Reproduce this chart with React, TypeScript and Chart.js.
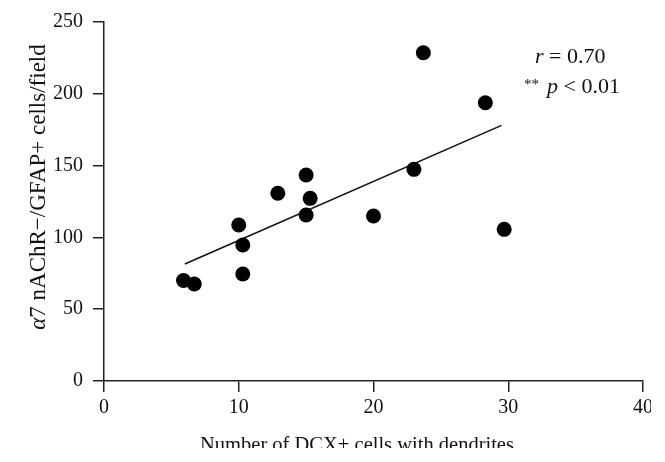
import React, { useEffect, useRef } from "react";
import { Chart, registerables } from "chart.js";

Chart.register(...registerables);

const dcxCells = [5.9, 6.7, 10.0, 10.3, 10.3, 12.9, 15.0, 15.0, 15.3, 20.0, 23.0, 23.7, 28.3, 29.7];
const a7Cells = [70, 67.5, 108.6, 94.7, 74.5, 130.7, 143.5, 115.6, 127.2, 114.9, 147.4, 228.6, 193.8, 105.6];
const fitX = [6.0, 29.5];
const fitY = [81.5, 178];
const xTicks = [0, 10, 20, 30, 40];
const yTicks = [0, 50, 100, 150, 200, 250];
const xTitle = "Number of DCX+ cells with dendrites";
const yTitleItalic = "α";
const yTitleRest = "7 nAChR−/GFAP+ cells/field";
const statR = ["r", " = 0.70"];
const statP = ["**", "p", " < 0.01"];

const SERIF = '"Liberation Serif", "DejaVu Serif", serif';

export default function App() {
  const ref = useRef<HTMLCanvasElement | null>(null);

  useEffect(() => {
    const canvas = ref.current;
    if (!canvas) return;

    const textPlugin = {
      id: "texts",
      afterDraw(chart: any) {
        const ctx = chart.ctx;
        ctx.save();
        ctx.fillStyle = "#111";
        ctx.textBaseline = "alphabetic";
        ctx.textAlign = "left";
        // x title
        ctx.font = `20.5px ${SERIF}`;
        const xw = ctx.measureText(xTitle).width;
        ctx.fillText(xTitle, 357 - xw / 2, 451);
        // y title
        ctx.save();
        ctx.translate(45, 187);
        ctx.rotate(-Math.PI / 2);
        ctx.font = `italic 23px ${SERIF}`;
        const w1 = ctx.measureText(yTitleItalic).width;
        ctx.font = `23px ${SERIF}`;
        const w2 = ctx.measureText(yTitleRest).width;
        const start = -(w1 + w2) / 2;
        ctx.font = `italic 23px ${SERIF}`;
        ctx.fillText(yTitleItalic, start, 0);
        ctx.font = `23px ${SERIF}`;
        ctx.fillText(yTitleRest, start + w1, 0);
        ctx.restore();
        // stats
        let x = 535;
        ctx.font = `italic 22px ${SERIF}`;
        ctx.fillText(statR[0], x, 63);
        x += ctx.measureText(statR[0]).width;
        ctx.font = `22px ${SERIF}`;
        ctx.fillText(statR[1], x, 63);
        x = 524;
        ctx.font = `15px ${SERIF}`;
        ctx.fillText(statP[0], x, 89);
        x = 547;
        ctx.font = `italic 22px ${SERIF}`;
        ctx.fillText(statP[1], x, 93);
        x += ctx.measureText(statP[1]).width;
        ctx.font = `22px ${SERIF}`;
        ctx.fillText(statP[2], x, 93);
        ctx.restore();
      },
    };

    const chart = new Chart(canvas, {
      type: "scatter",
      data: {
        datasets: [
          {
            type: "scatter",
            data: dcxCells.map((x, i) => ({ x, y: a7Cells[i] })),
            backgroundColor: "#000",
            borderColor: "#000",
            pointRadius: 7.5,
            pointHoverRadius: 7.5,
            borderWidth: 0,
          },
          {
            type: "line",
            data: fitX.map((x, i) => ({ x, y: fitY[i] })),
            borderColor: "#111",
            borderWidth: 1.6,
            pointRadius: 0,
            fill: false,
          } as any,
        ],
      },
      options: {
        responsive: false,
        animation: false,
        devicePixelRatio: 1,
        layout: { padding: { left: 0, right: 22, top: 22, bottom: 0 } },
        plugins: { legend: { display: false }, tooltip: { enabled: false } },
        scales: {
          x: {
            type: "linear",
            min: 0,
            max: 40,
            afterBuildTicks: (s: any) => {
              s.ticks = xTicks.map((v) => ({ value: v }));
            },
            afterFit: (s: any) => {
              s.height = 67;
            },
            ticks: { color: "#111", font: { family: SERIF, size: 20 }, padding: 4 },
            grid: { drawOnChartArea: false, drawTicks: true, tickLength: 11, color: "#222", lineWidth: 1.5 },
            border: { display: true, color: "#222", width: 1.5 },
          },
          y: {
            type: "linear",
            min: 0,
            max: 250,
            afterBuildTicks: (s: any) => {
              s.ticks = yTicks.map((v) => ({ value: v }));
            },
            afterFit: (s: any) => {
              s.width = 104;
            },
            ticks: { color: "#111", font: { family: SERIF, size: 20 }, padding: 10 },
            grid: { drawOnChartArea: false, drawTicks: true, tickLength: 11, color: "#222", lineWidth: 1.5 },
            border: { display: true, color: "#222", width: 1.5 },
          },
        },
      },
      plugins: [textPlugin],
    });
    return () => chart.destroy();
  }, []);

  return (
    <div
      style={{
        position: "fixed",
        left: 0,
        top: 0,
        width: 651,
        height: 462,
        overflow: "hidden",
        background: "#fff",
      }}
    >
      <canvas ref={ref} width={665} height={448} style={{ display: "block" }} />
    </div>
  );
}
